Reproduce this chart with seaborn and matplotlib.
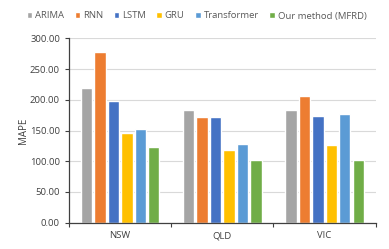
import matplotlib
matplotlib.use("Agg")
import matplotlib.pyplot as plt
import seaborn as sns
import pandas as pd
from matplotlib.ticker import FormatStrFormatter, FixedLocator

regions = ["NSW", "QLD", "VIC"]
methods = ["ARIMA", "RNN", "LSTM", "GRU", "Transformer", "Our method (MFRD)"]
arima = [219, 183.5, 183.5]
rnn = [278, 171.5, 205.5]
lstm = [198, 172, 173]
gru = [146, 118, 126.5]
transformer = [152, 128, 176.5]
ours = [123, 102, 101.5]
colors = ["#A5A5A5", "#ED7D31", "#4472C4", "#FFC000", "#5B9BD5", "#70AD47"]

series = [arima, rnn, lstm, gru, transformer, ours]
rows = []
for m, vals in zip(methods, series):
    for r, v in zip(regions, vals):
        rows.append({"Region": r, "Method": m, "MAPE": v})
df = pd.DataFrame(rows)

sns.set_style("white")
plt.rcParams['font.family'] = ['Open Sans', 'DejaVu Sans']

fig = plt.figure(figsize=(3.89, 2.49), dpi=100)
ax = fig.add_axes([69/389, 1 - 222.7/249, (375.7-69)/389, (222.7-38.3)/249])

sns.barplot(data=df, x="Region", y="MAPE", hue="Method", palette=colors,
            width=0.79, gap=0.15, saturation=1, ax=ax, legend=True)

ax.set_ylim(0, 300)
ax.set_xlim(-0.5, 2.5)
ax.set_yticks([0, 50, 100, 150, 200, 250, 300])
ax.yaxis.set_major_formatter(FormatStrFormatter('%.2f'))
ax.yaxis.grid(True, color="#D9D9D9", linewidth=0.8)
ax.set_axisbelow(True)
ax.set_xlabel("")
ax.set_ylabel("MAPE", fontsize=7, color="#404040")
ax.yaxis.set_label_coords(-0.13, 0.5)

for s in ["top", "right"]:
    ax.spines[s].set_visible(False)
ax.spines["left"].set_color("#404040")
ax.spines["bottom"].set_color("#404040")
ax.spines["left"].set_linewidth(0.9)
ax.spines["bottom"].set_linewidth(0.9)

ax.tick_params(axis="y", labelsize=6.8, colors="#404040", length=3, width=0.8, direction="out", left=True)
ax.tick_params(axis="x", labelsize=6.8, colors="#404040", length=0, pad=6)
ax.xaxis.set_minor_locator(FixedLocator([-0.5, 0.5, 1.5, 2.5]))
ax.tick_params(axis="x", which="minor", length=3, width=0.8, color="#404040", bottom=True)

handles, labels = ax.get_legend_handles_labels()
ax.legend(handles, labels, loc="center", bbox_to_anchor=(196.5/389, (249-16)/249),
          bbox_transform=fig.transFigure, ncol=6, frameon=False, fontsize=6.8,
          handlelength=0.6, handleheight=0.6, handletextpad=0.3, columnspacing=1.1,
          labelcolor="#595959")

fig.savefig("out.png", dpi=100)
